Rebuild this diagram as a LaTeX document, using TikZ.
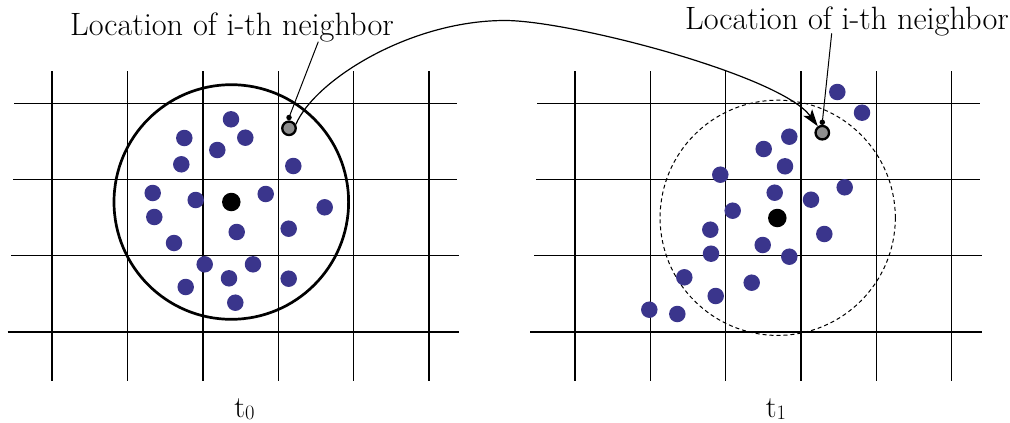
\documentclass[tikz,border=0pt]{standalone}
\usepackage{fontspec}
\usetikzlibrary{arrows.meta}
\definecolor{dotblue}{RGB}{58,53,140}
\definecolor{ngray}{RGB}{142,142,142}
\newcommand{\tsub}[1]{t\raisebox{-2.5pt}{\fontsize{20.5}{22}\selectfont #1}}
\begin{document}
\begin{tikzpicture}[x=1pt,y=-1pt,
  gridline/.style={line width=1.1pt},
  bdot/.style={circle,fill=dotblue,inner sep=0pt,minimum size=16.5pt},
  cdot/.style={circle,fill=black,inner sep=0pt,minimum size=18.5pt},
  ndot/.style={circle,fill=ngray,draw=black,line width=2.3pt,inner sep=0pt,minimum size=13.5pt},
  tipdot/.style={circle,fill=black,inner sep=0pt,minimum size=5.5pt},
  lbl/.style={inner sep=0pt,font=\fontsize{32.3}{36}\selectfont},
  tlbl/.style={inner sep=0pt,font=\fontsize{30.5}{34}\selectfont},
  leader/.style={line width=1pt},
  bigarrow/.style={line width=1.2pt,-{Stealth[length=17pt,width=11pt,inset=4pt]}}]
\useasboundingbox (0,0) rectangle (1010,423);
% ---------- left grid ----------
\foreach \x in {52,127.7,203,278.3,353.7,429} \draw[gridline] (\x,71) -- (\x,381);
\draw[gridline] (14,103.3) -- (457,103.3);
\draw[gridline] (13,179.3) -- (457,179.3);
\draw[gridline] (11,255.7) -- (459,255.7);
\draw[gridline] (7.5,332) -- (459,332);
% ---------- right grid ----------
\foreach \x in {575,650.3,725.7,801,876.3,951.7} \draw[gridline] (\x,71) -- (\x,381);
\draw[gridline] (537,103.3) -- (979.5,103.3);
\draw[gridline] (536,179.3) -- (979.5,179.3);
\draw[gridline] (534,255.7) -- (981.7,255.7);
\draw[gridline] (530.3,332) -- (981.7,332);
% ---------- neighbourhoods ----------
\draw[line width=2.7pt] (231.3,202) circle [radius=117.3pt];
\draw[line width=1pt,dash pattern=on 4pt off 3pt] (777.7,217.8) circle [radius=117.6pt];
% ---------- left dots ----------
\foreach \p [count=\i] in {(231,119.3),(184.3,138),(245.3,137.7),(217.3,150),(181.3,164.3),(293.3,166),
  (152.7,193),(195.7,200),(265.7,194),(324.7,207.3),(154.3,217),(236.7,232),(288.7,228.7),(174,243),
  (204.7,264.3),(253,264.3),(229,278.3),(288.7,278.7),(185.7,287),(235.3,302.7)}
  \node[bdot] (l\i) at \p {};
\node[cdot] (lc) at (231.3,202) {};
% ---------- right dots ----------
\foreach \p [count=\i] in {(837.3,92),(862,112.7),(789.3,136.7),(763.7,149),(785,166.3),(720.3,174.7),
  (774.7,192.7),(844.7,187.3),(811,199.7),(732.7,210.7),(710.3,229.7),(824.3,234),(762.7,245),
  (711,253.7),(789.3,256.7),(684.3,277.3),(751.7,282.7),(715.7,296),(649.3,309.7),(677.3,314)}
  \node[bdot] (r\i) at \p {};
\node[cdot] (rc) at (777.3,218) {};
% ---------- i-th neighbour ----------
\node[ndot] (gl) at (289,128.3) {};
\node[ndot] (gr) at (822.3,132.7) {};
% ---------- labels ----------
\node[lbl,anchor=base west] (labl) at (70,35) {Location of i-th neighbor};
\node[lbl,anchor=base west] (labr) at (685,29.3) {Location of i-th neighbor};
\node[tlbl,anchor=base] (t0) at (244.5,417) {\tsub{0}};
\node[tlbl,anchor=base] (t1) at (776,417) {\tsub{1}};
% ---------- leaders ----------
\coordinate (lstart) at (318.3,41.7);
\coordinate (rstart) at (831.7,33.3);
\node[tipdot] (ltip) at (289,117.5) {};
\node[tipdot] (rtip) at (822.3,122.3) {};
\draw[leader] (lstart) -- (ltip.center);
\draw[leader] (rstart) -- (rtip.center);
% ---------- moving arrow ----------
\coordinate (peak) at (505,20.5);
\draw[bigarrow] (gl.30) .. controls (315,80) and (410,20.5) .. (peak)
  .. controls (570,20.5) and (780,75) .. (gr.125);
\end{tikzpicture}
\end{document}
